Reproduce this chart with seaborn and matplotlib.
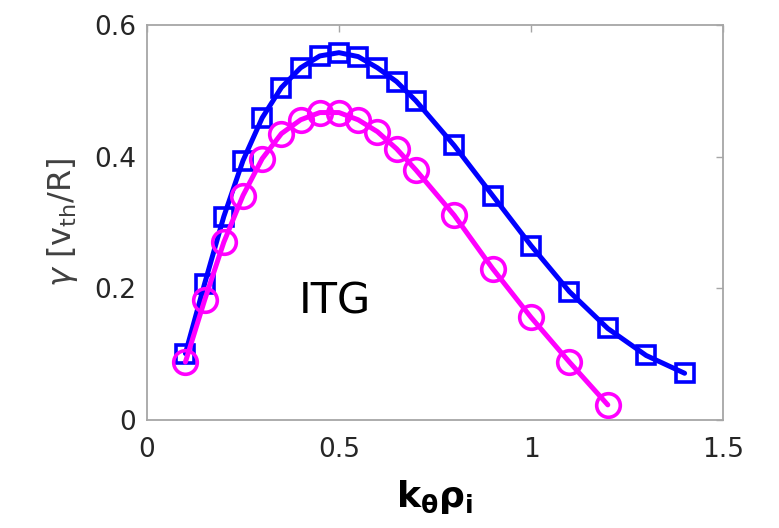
import matplotlib
matplotlib.use("Agg")
import matplotlib.pyplot as plt
import seaborn as sns
import numpy as np

# Data
k_blue = [0.1, 0.15, 0.2, 0.25, 0.3, 0.35, 0.4, 0.45, 0.5, 0.55, 0.6, 0.65, 0.7, 0.8, 0.9, 1.0, 1.1, 1.2, 1.3, 1.4]
g_blue = [0.101, 0.207, 0.309, 0.394, 0.459, 0.505, 0.535, 0.553, 0.558, 0.552, 0.535, 0.514, 0.485, 0.417, 0.341, 0.265, 0.195, 0.139, 0.098, 0.071]
k_mag = [0.1, 0.15, 0.2, 0.25, 0.3, 0.35, 0.4, 0.45, 0.5, 0.55, 0.6, 0.65, 0.7, 0.8, 0.9, 1.0, 1.1, 1.2]
g_mag = [0.088, 0.182, 0.270, 0.341, 0.397, 0.435, 0.456, 0.467, 0.467, 0.456, 0.438, 0.412, 0.380, 0.311, 0.230, 0.156, 0.088, 0.023]
xticks = [0, 0.5, 1, 1.5]
xticklabels = ["0", "0.5", "1", "1.5"]
yticks = [0, 0.2, 0.4, 0.6]
yticklabels = ["0", "0.2", "0.4", "0.6"]

sns.set_style("white")
plt.rcParams['font.family'] = ['DejaVu Sans']
plt.rcParams['mathtext.fontset'] = 'dejavusans'

fig = plt.figure(figsize=(7.79, 5.28), dpi=100)
ax = fig.add_axes([147/779, (528-420)/528, (723-147)/779, (420-25)/528])

sns.lineplot(x=k_blue, y=g_blue, ax=ax, color=(0, 0, 1), linewidth=3.6,
             marker='s', markersize=13, markerfacecolor='none',
             markeredgecolor=(0, 0, 1), markeredgewidth=2.6)
sns.lineplot(x=k_mag, y=g_mag, ax=ax, color=(1, 0, 1), linewidth=3.6,
             marker='o', markersize=17, markerfacecolor='none',
             markeredgecolor=(1, 0, 1), markeredgewidth=2.6)

ax.set_xlim(0, 1.5)
ax.set_ylim(0, 0.6)
ax.set_xticks(xticks)
ax.set_xticklabels(xticklabels)
ax.set_yticks(yticks)
ax.set_yticklabels(yticklabels)

for s in ax.spines.values():
    s.set_visible(True)
    s.set_color('#a6a6a6')
    s.set_linewidth(1.3)
ax.tick_params(direction='in', top=True, right=True, length=5, width=1,
               color='#a6a6a6', labelsize=19, labelcolor='#262626')
ax.tick_params(axis='x', pad=12)
ax.tick_params(axis='y', pad=8)

ax.text(0.49, 0.18, "ITG", fontsize=31, ha='center', va='center', color='black')

ax.set_xlabel(r"$\mathbf{k_{\theta}\rho_{i}}$", fontsize=26, color='black', labelpad=11)
ax.set_ylabel(r"$\mathit{\gamma}$ [v$_{\mathrm{th}}$/R]", fontsize=23, color='#404040', labelpad=10)

fig.savefig("out.png", dpi=100)
